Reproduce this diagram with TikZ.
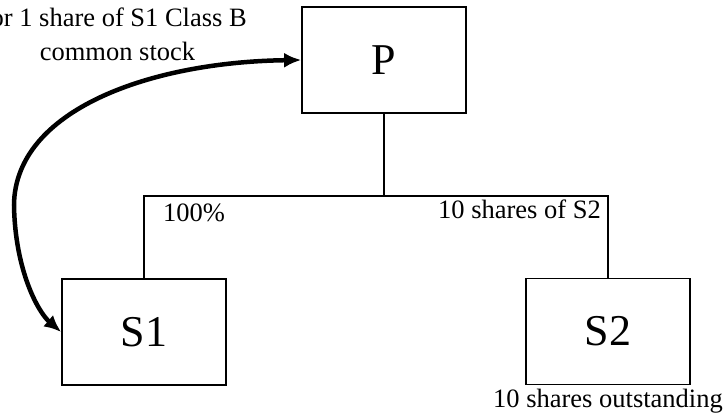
\documentclass[tikz,border=0pt]{standalone}
\usepackage{fontspec}
\setmainfont{Liberation Serif}
\usetikzlibrary{arrows.meta}
\begin{document}
\begin{tikzpicture}[x=1pt,y=-1pt,
  entity/.style={draw,line width=1.7pt,minimum width=164pt,minimum height=106pt,inner sep=0pt,font=\fontsize{44}{48}\selectfont},
  lbl/.style={inner sep=0pt,font=\fontsize{26.5}{30}\selectfont},
  link/.style={line width=1.7pt},
  swap/.style={line width=4.5pt,{Latex[length=17pt,width=15pt]}-{Latex[length=17pt,width=15pt]}}]
\useasboundingbox (0,0) rectangle (725,413);
\node[entity] (P) at (384,60) {P};
\node[entity] (S1) at (144,332) {S1};
\node[entity] (S2) at (608,331.5) {S2};
\coordinate (bar) at (384,196);
\coordinate (m) at (14,205);
\draw[link] (P.south) -- (bar);
\draw[link] (S1.north) |- (bar) -| (S2.north);
\node[lbl,anchor=base west] (pct) at (163,221) {100\%};
\node[lbl,anchor=base east] (sh) at (601,218) {10 shares of S2};
\node[lbl,anchor=base west] (out) at (493,407) {10 shares outstanding};
\node[lbl,anchor=base east] (t1) at (247,26) {or 1 share of S1 Class B};
\node[lbl,anchor=base] (t2) at (117.5,60) {common stock};
\draw[swap] (P.west) .. controls (150,62) and (15,110) .. (m) .. controls (15,270) and (38,312) .. (S1.west);
\end{tikzpicture}
\end{document}
